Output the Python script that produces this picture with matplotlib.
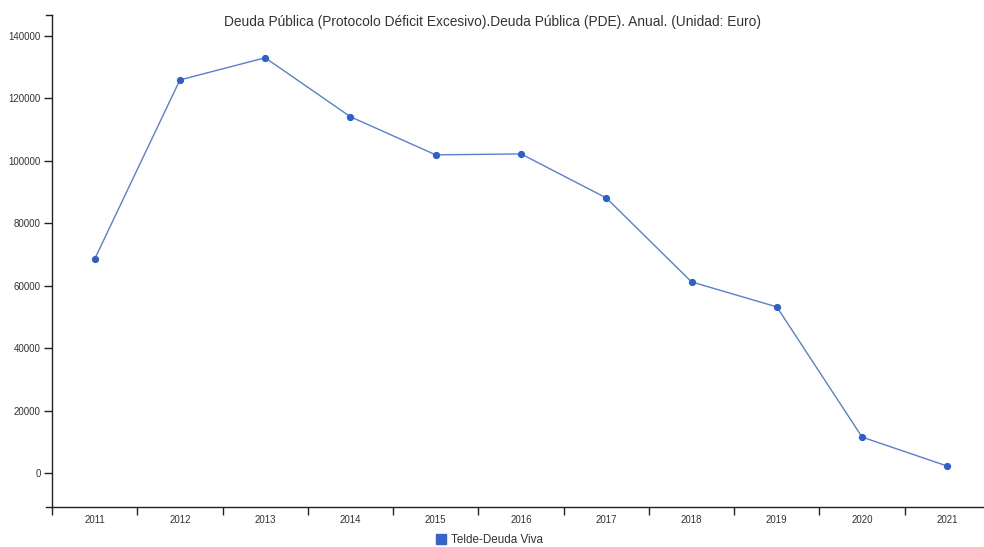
import numpy as np
import matplotlib
matplotlib.use("Agg")
import matplotlib.pyplot as plt
from matplotlib.lines import Line2D

plt.rcParams['font.family'] = ['Liberation Sans', 'DejaVu Sans']

# Data
years = ["2011", "2012", "2013", "2014", "2015", "2016",
         "2017", "2018", "2019", "2020", "2021"]
deuda_viva = [68500, 125900, 133000, 114100, 101900, 102200,
              88100, 61200, 53200, 11500, 2200]
y_ticks = [0, 20000, 40000, 60000, 80000, 100000, 120000, 140000]

title = "Deuda Pública (Protocolo Déficit Excesivo).Deuda Pública (PDE). Anual. (Unidad: Euro)"
series_name = "Telde-Deuda Viva"

W, H = 984, 547
fig = plt.figure(figsize=(W / 100, H / 100), dpi=100)
ax = fig.add_axes([52 / W, (H - 507) / H, (990 - 52) / W, (507 - 15) / H])

x = np.arange(len(years))
ax.plot(x, deuda_viva, color="#5a7fd0", linewidth=1.0, zorder=2)
ax.plot(x, deuda_viva, linestyle="none", marker="o", markersize=4.2,
        color="#2f5fc9", zorder=3)

ax.set_xlim(-0.5, len(years) - 0.5)
ax.set_ylim(-10900, 146700)

# y axis
ax.set_yticks(y_ticks)
ax.set_yticklabels([str(v) for v in y_ticks])
ax.tick_params(axis="y", direction="out", length=6, width=1, pad=2,
               labelsize=7, labelcolor="#333333", color="#222222")

# x axis: labels at band centres, tick marks at band edges
ax.set_xticks(x)
ax.set_xticklabels(years)
ax.tick_params(axis="x", which="major", length=0, pad=6,
               labelsize=7, labelcolor="#333333")
ax.set_xticks(np.arange(-0.5, len(years), 1.0), minor=True)
ax.tick_params(axis="x", which="minor", direction="out", length=6, width=1,
               color="#222222")

for side in ["top", "right"]:
    ax.spines[side].set_visible(False)
for side in ["left", "bottom"]:
    ax.spines[side].set_color("#222222")
    ax.spines[side].set_linewidth(1.0)

# outer ticks of the y domain (top and bottom)
ax.plot([-0.5 - 6 / 85, -0.5], [146700, 146700], color="#222222",
        linewidth=1.0, clip_on=False)
ax.plot([-0.5 - 6 / 85, -0.5], [-10900, -10900], color="#222222",
        linewidth=1.0, clip_on=False)

fig.text(493 / W, 1 - 22 / H, title, ha="center", va="center",
         fontsize=9.9, color="#333333")

handle = Line2D([], [], linestyle="none", marker="s", markersize=7,
                color="#3366cc")
fig.legend([handle], [series_name], loc="center", bbox_to_anchor=(489 / W, 1 - 540 / H),
           frameon=False, fontsize=8.4, handletextpad=0.3, handlelength=1,
           labelcolor="#333333")

fig.savefig("out.png", dpi=100, facecolor="white")
